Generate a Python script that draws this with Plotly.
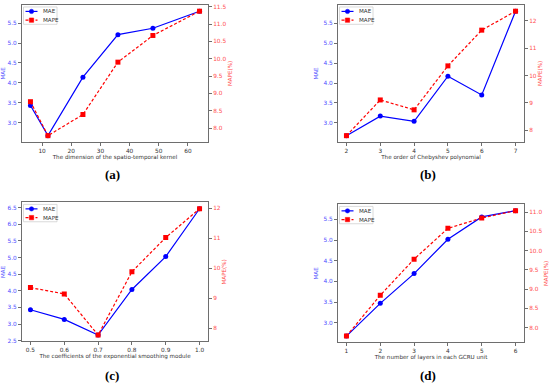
import plotly.graph_objects as go

# ---- data ----
x_a = [6, 12, 24, 36, 48, 64]
mae_a = [3.43, 2.67, 4.14, 5.21, 5.37, 5.80]
mape_a = [8.76, 7.78, 8.39, 9.90, 10.67, 11.37]

x_b = [2, 3, 4, 5, 6, 7]
mae_b = [2.68, 3.17, 3.04, 4.17, 3.70, 5.80]
mape_b = [7.81, 9.11, 8.75, 10.35, 11.65, 12.34]

x_c = [0.5, 0.6, 0.7, 0.8, 0.9, 1.0]
mae_c = [3.43, 3.14, 2.67, 4.04, 5.03, 6.47]
mape_c = [9.36, 9.15, 7.78, 9.89, 11.03, 11.99]

x_d = [1, 2, 3, 4, 5, 6]
mae_d = [2.68, 3.47, 4.19, 5.02, 5.56, 5.71]
mape_d = [7.78, 8.84, 9.78, 10.58, 10.85, 11.04]

x_titles = [
    "The dimension of the spatio-temporal kernel",
    "The order of Chebyshev polynomial",
    "The coefficients of the exponential smoothing module",
    "The number of layers in each GCRU unit",
]
panel_labels = ["(a)", "(b)", "(c)", "(d)"]
series_names = ["MAE", "MAPE"]

W, H = 550, 386
BLUE = "#0000ff"
RED = "#ff0000"
BLUE_T = "#4d4dff"
RED_T = "#ff4d4d"
FRAME = "#6e6e6e"
TXT = "#333333"
FONT = "DejaVu Sans"
DASH = "3px,2px"

panels = [
    dict(x=x_a, mae=mae_a, mape=mape_a, box=(22, 208, 4, 142), xd=10, xf="d", yd1=0.5, yf1=".1f", yd2=0.5, yf2=".1f", lab=(112, 175)),
    dict(x=x_b, mae=mae_b, mape=mape_b, box=(338, 524, 4, 142), xd=1, xf="d", yd1=0.5, yf1=".1f", yd2=1, yf2="d", lab=(428, 175)),
    dict(x=x_c, mae=mae_c, mape=mape_c, box=(22, 208, 203, 343), xd=0.1, xf=".1f", yd1=0.5, yf1=".1f", yd2=1, yf2="d", lab=(112, 377)),
    dict(x=x_d, mae=mae_d, mape=mape_d, box=(338, 524, 205, 344), xd=1, xf="d", yd1=0.5, yf1=".1f", yd2=0.5, yf2=".1f", lab=(428, 377)),
]


def pad(vals, frac=0.05):
    lo, hi = min(vals), max(vals)
    s = hi - lo
    return [lo - frac * s, hi + frac * s]


def px(x):
    return x / W


def py(y):
    return 1 - y / H


fig = go.Figure()
layout = dict(
    width=W, height=H,
    margin=dict(l=0, r=0, t=0, b=0),
    paper_bgcolor="white", plot_bgcolor="white",
    font=dict(family=FONT, size=6, color=TXT),
    showlegend=False,
    annotations=[],
    shapes=[],
)

tickfont = 5.8
titlefont = 5.6

for i, p in enumerate(panels, start=1):
    xl, xr, yt, yb = p["box"]
    xdom = [px(xl), px(xr)]
    ydom = [py(yb), py(yt)]
    xa = "x" if i == 1 else f"x{i}"
    ya1 = "y" if i == 1 else f"y{2*i-1}"
    ya2 = f"y{2*i}"

    fig.add_trace(go.Scatter(
        x=p["x"], y=p["mae"], name="MAE", mode="lines+markers",
        line=dict(color=BLUE, width=1.2), marker=dict(symbol="circle", size=5, color=BLUE),
        xaxis=xa, yaxis=ya1))
    fig.add_trace(go.Scatter(
        x=p["x"], y=p["mape"], name="MAPE", mode="lines+markers",
        line=dict(color=RED, width=1.2, dash=DASH), marker=dict(symbol="square", size=5, color=RED),
        xaxis=xa, yaxis=ya2))

    xkey = "xaxis" if i == 1 else f"xaxis{i}"
    y1key = "yaxis" if i == 1 else f"yaxis{2*i-1}"
    y2key = f"yaxis{2*i}"

    common = dict(showgrid=False, zeroline=False, showline=True, linecolor=FRAME, linewidth=1,
                  ticks="outside", ticklen=3, tickwidth=0.8, tickcolor=FRAME, tick0=0)
    layout[xkey] = dict(
        domain=xdom, anchor=ya1, range=pad(p["x"]), dtick=p["xd"], tickformat=p["xf"], mirror=True,
        tickfont=dict(size=tickfont, color=TXT),
        title=dict(text=x_titles[i - 1], font=dict(size=titlefont, color=TXT), standoff=1), **common)
    layout[y1key] = dict(
        domain=ydom, anchor=xa, range=pad(p["mae"]), dtick=p["yd1"], tickformat=p["yf1"],
        tickfont=dict(size=tickfont, color=BLUE_T),
        title=dict(text="MAE", font=dict(size=titlefont, color=BLUE_T), standoff=4), **common)
    layout[y2key] = dict(
        domain=ydom, anchor=xa, overlaying=ya1, side="right",
        range=pad(p["mape"]), dtick=p["yd2"], tickformat=p["yf2"],
        tickfont=dict(size=tickfont, color=RED_T),
        title=dict(text="MAPE(%)", font=dict(size=titlefont, color=RED_T), standoff=2), **common)

    # compact legend (matplotlib style) drawn in the top-left of the panel
    layout["shapes"].append(dict(
        type="rect", xref="paper", yref="paper",
        x0=px(xl + 1.5), x1=px(xl + 35), y0=py(yt + 19.5), y1=py(yt + 2),
        line=dict(color="#d0d0d0", width=0.8), fillcolor="white", layer="above"))
    for k, (col, dash, sym) in enumerate([(BLUE, "solid", "circle"), (RED, DASH, "rect")]):
        ey = yt + 6.5 + 8.8 * k
        layout["shapes"].append(dict(
            type="line", xref="paper", yref="paper",
            x0=px(xl + 3.5), x1=px(xl + 15.5), y0=py(ey), y1=py(ey),
            line=dict(color=col, width=1.2, dash=dash), layer="above"))
        cx = xl + 9.5
        layout["shapes"].append(dict(
            type=sym, xref="paper", yref="paper",
            x0=px(cx - 2.2), x1=px(cx + 2.2), y0=py(ey + 2.2), y1=py(ey - 2.2),
            line=dict(color=col, width=0.5), fillcolor=col, layer="above"))
        layout["annotations"].append(dict(
            text=series_names[k], x=px(xl + 19), y=py(ey), xref="paper", yref="paper",
            showarrow=False, xanchor="left", yanchor="middle",
            font=dict(size=5.6, color=TXT)))

    lx, ly = p["lab"]
    layout["annotations"].append(dict(
        text=f"<b>{panel_labels[i-1]}</b>", x=px(lx), y=py(ly), xref="paper", yref="paper",
        showarrow=False, xanchor="center", yanchor="middle",
        font=dict(family="Liberation Serif", size=13, color="black")))

fig.update_layout(**layout)
fig.write_html("out.html", config={"displayModeBar": False},
               post_script="document.body.style.margin='0';")
